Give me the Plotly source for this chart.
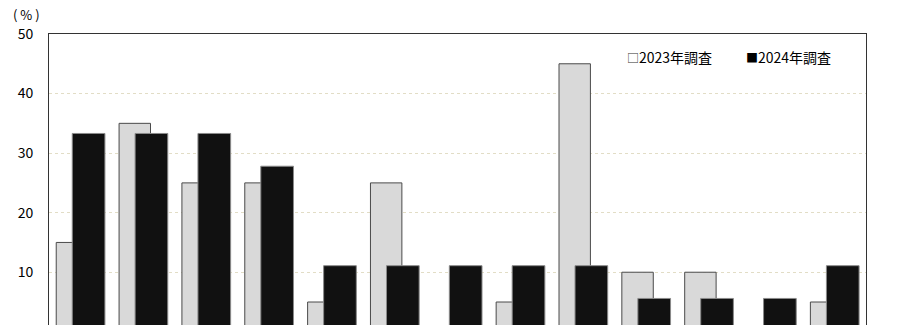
import plotly.graph_objects as go

categories = ["項目1", "項目2", "項目3", "項目4", "項目5", "項目6", "項目7",
              "項目8", "項目9", "項目10", "項目11", "項目12", "項目13"]
survey_2023 = [15.0, 35.0, 25.0, 25.0, 5.0, 25.0, 0.0, 5.0, 45.0, 10.0, 10.0, 0.0, 5.0]
survey_2024 = [33.3, 33.3, 33.3, 27.8, 11.1, 11.1, 11.1, 11.1, 11.1, 5.6, 5.6, 5.6, 11.1]
series_names = ["2023年調査", "2024年調査"]
y_ticks = [10, 20, 30, 40, 50]

FONT = "Noto Sans CJK JP"
xpos = list(range(len(categories)))

fig = go.Figure()
fig.add_trace(go.Bar(
    x=xpos, y=survey_2023, name=series_names[0],
    width=0.5, offset=-0.385,
    marker=dict(color="#d9d9d9", line=dict(color="#4a4a4a", width=1)),
    showlegend=False,
))
fig.add_trace(go.Bar(
    x=xpos, y=survey_2024, name=series_names[1],
    width=0.52, offset=-0.13,
    marker=dict(color="#111111", line=dict(color="#8a8a8a", width=1)),
    showlegend=False,
))

fig.update_layout(
    width=915, height=325,
    margin=dict(l=49, r=49, t=34, b=0),
    paper_bgcolor="white", plot_bgcolor="white",
    barmode="overlay",
    font=dict(family=FONT, size=14, color="#000000"),
    xaxis=dict(
        range=[-0.5, len(categories) - 0.5],
        tickvals=xpos, ticktext=categories,
        showticklabels=False, ticks="",
        showgrid=False, zeroline=False,
        side="top", showline=True, linecolor="#333333", linewidth=1, mirror=False,
    ),
    yaxis=dict(
        range=[1.14, 50],
        tickvals=y_ticks, ticktext=[str(v) for v in y_ticks],
        ticks="", ticklabelstandoff=12,
        showgrid=True, gridcolor="#e2ddc6", griddash="dot", gridwidth=1,
        zeroline=False,
        showline=True, linecolor="#333333", linewidth=1, mirror=True,
        tickfont=dict(family=FONT, size=14, color="#000000"),
    ),
    annotations=[
        dict(text="( % )", xref="paper", yref="paper", x=-0.028, y=1.0, yshift=20,
             xanchor="center", yanchor="middle", showarrow=False,
             font=dict(family=FONT, size=13, color="#000000")),
        dict(text="<span style='color:#333333;font-size:12px'>□</span>" + series_names[0],
             xref="paper", yref="paper", x=0.705, y=0.922,
             xanchor="left", yanchor="middle", showarrow=False,
             font=dict(family=FONT, size=14, color="#000000")),
        dict(text="<span style='font-size:12px'>■</span>" + series_names[1],
             xref="paper", yref="paper", x=0.851, y=0.922,
             xanchor="left", yanchor="middle", showarrow=False,
             font=dict(family=FONT, size=14, color="#000000")),
    ],
)

fig.write_html("out.html", config={"displayModeBar": False},
               post_script="document.body.style.margin='0';document.body.style.overflow='hidden';")
